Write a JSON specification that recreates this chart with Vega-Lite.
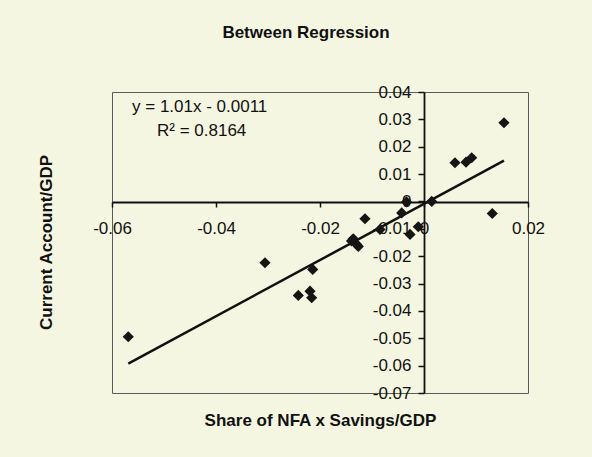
{
  "$schema": "https://vega.github.io/schema/vega-lite/v6.json",
  "width": 416,
  "height": 301,
  "autosize": {"type": "none"},
  "padding": {"left": 112, "top": 92, "right": 64, "bottom": 64},
  "background": "#f4f6e1",
  "config": {
    "font": "Liberation Sans",
    "view": {"stroke": "#5a5a5a", "strokeWidth": 1, "fill": "#f4f6e1"},
    "axis": {"labelOverlap": false, "labelSeparation": 0}
  },
  "title": {
    "text": "Between Regression",
    "font": "Liberation Sans",
    "fontSize": 17,
    "fontWeight": "bold",
    "color": "#111111",
    "anchor": "middle",
    "frame": "group",
    "baseline": "bottom",
    "offset": 24,
    "dx": -14
  },
  "datasets": {
    "points": [
      {"share": -0.05687, "ca": -0.04944},
      {"share": -0.03058, "ca": -0.0224},
      {"share": -0.0214, "ca": -0.02485},
      {"share": -0.02417, "ca": -0.03435},
      {"share": -0.02192, "ca": -0.03278},
      {"share": -0.0216, "ca": -0.03519},
      {"share": -0.0136, "ca": -0.01363},
      {"share": -0.01294, "ca": -0.01571},
      {"share": -0.01263, "ca": -0.01644},
      {"share": -0.01394, "ca": -0.01443},
      {"share": -0.01135, "ca": -0.00632},
      {"share": -0.00846, "ca": -0.01023},
      {"share": -0.00429, "ca": -0.0042},
      {"share": -0.00337, "ca": -0.00018},
      {"share": -0.00269, "ca": -0.01206},
      {"share": -0.0011, "ca": -0.00925},
      {"share": 0.00148, "ca": 0.0},
      {"share": 0.00596, "ca": 0.01414},
      {"share": 0.00808, "ca": 0.01436},
      {"share": 0.00917, "ca": 0.01597},
      {"share": 0.01313, "ca": -0.00439},
      {"share": 0.01538, "ca": 0.02876}
    ]
  },
  "layer": [
    {
      "data": {"name": "points"},
      "transform": [{"regression": "ca", "on": "share"}],
      "mark": {"type": "line", "color": "#111111", "strokeWidth": 2.5},
      "encoding": {
        "x": {
          "field": "share",
          "type": "quantitative",
          "scale": {"domain": [-0.06, 0.02], "nice": false, "zero": false},
          "axis": {
            "title": "Share of NFA x Savings/GDP",
            "titleFont": "Liberation Sans",
            "titleFontSize": 17,
            "titleFontWeight": "bold",
            "titleColor": "#111111",
            "titleX": 208,
            "titleY": 218,
            "titleAlign": "center",
            "titleBaseline": "middle",
            "offset": -191,
            "values": [-0.06, -0.04, -0.02, 0, 0.02],
            "labelExpr": "replace(format(datum.value, '.2~f'), '\u2212', '-')",
            "labelFont": "Liberation Sans",
            "labelFontSize": 17,
            "labelColor": "#111111",
            "labelFlush": false,
            "labelOverlap": false,
            "labelBound": false,
            "labelPadding": 13,
            "tickSize": 5,
            "tickColor": "#111111",
            "tickWidth": 1.5,
            "domainColor": "#111111",
            "domainWidth": 1.8,
            "grid": false
          }
        },
        "y": {
          "field": "ca",
          "type": "quantitative",
          "scale": {"domain": [-0.07, 0.04], "nice": false, "zero": false},
          "axis": {
            "title": "Current Account/GDP",
            "titleFont": "Liberation Sans",
            "titleFontSize": 17,
            "titleFontWeight": "bold",
            "titleColor": "#111111",
            "titleAngle": 270,
            "titleX": -378,
            "titleY": 150,
            "titleAlign": "center",
            "titleBaseline": "middle",
            "offset": -312,
            "tickCount": 11,
            "labelExpr": "replace(format(datum.value, '.2~f'), '\u2212', '-')",
            "labelFont": "Liberation Sans",
            "labelFontSize": 17,
            "labelColor": "#111111",
            "labelFlush": false,
            "labelOverlap": false,
            "labelBound": false,
            "labelPadding": 7,
            "tickSize": 6,
            "tickColor": "#111111",
            "tickWidth": 1.5,
            "domainColor": "#111111",
            "domainWidth": 1.8,
            "grid": false
          }
        }
      }
    },
    {
      "data": {"name": "points"},
      "mark": {"type": "point", "shape": "diamond", "filled": true, "color": "#151515", "size": 125, "opacity": 1},
      "encoding": {
        "x": {"field": "share", "type": "quantitative"},
        "y": {"field": "ca", "type": "quantitative"}
      }
    },
    {
      "data": {"values": [{"label": "y = 1.01x - 0.0011"}]},
      "mark": {"type": "text", "align": "left", "baseline": "middle", "font": "Liberation Sans", "fontSize": 17, "color": "#111111"},
      "encoding": {
        "x": {"datum": -0.05615, "type": "quantitative"},
        "y": {"datum": 0.03453, "type": "quantitative"},
        "text": {"field": "label"}
      }
    },
    {
      "data": {"values": [{"label": "R² = 0.8164"}]},
      "mark": {"type": "text", "align": "left", "baseline": "middle", "font": "Liberation Sans", "fontSize": 17, "color": "#111111"},
      "encoding": {
        "x": {"datum": -0.05135, "type": "quantitative"},
        "y": {"datum": 0.02558, "type": "quantitative"},
        "text": {"field": "label"}
      }
    }
  ]
}
